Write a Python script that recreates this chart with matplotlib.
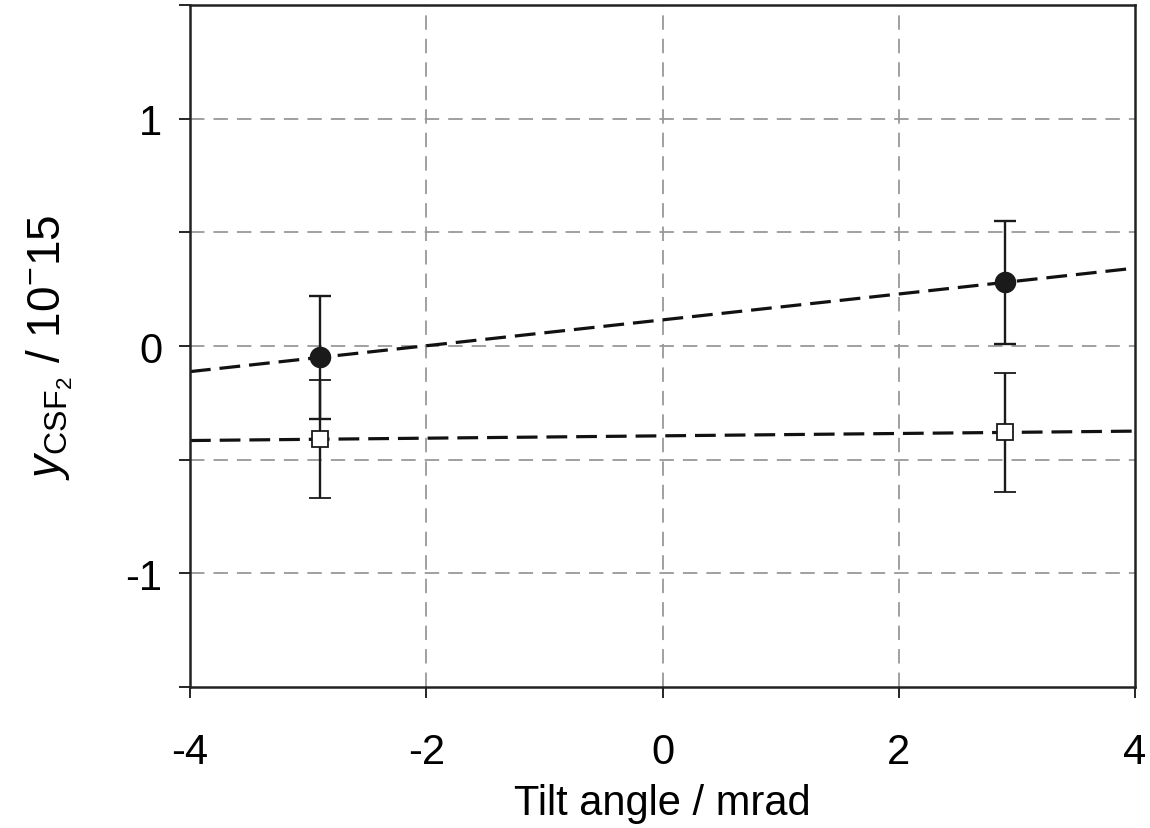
import numpy as np
import matplotlib
matplotlib.use("Agg")
import matplotlib.pyplot as plt

plt.rcParams['font.family'] = ['Liberation Sans', 'DejaVu Sans']
plt.rcParams['mathtext.fontset'] = 'custom'
plt.rcParams['mathtext.rm'] = 'Liberation Sans'
plt.rcParams['mathtext.it'] = 'Liberation Sans:italic'

# data
tilt = [-2.9, 2.9]
y_filled = [-0.05, 0.28]
err_filled = [0.27, 0.27]
y_open = [-0.41, -0.38]
err_open = [0.26, 0.26]

fig = plt.figure(figsize=(11.5, 8.29), dpi=100)
ax = fig.add_axes([0.1652, 0.170, 0.8218, 0.8228])

ax.set_xlim(-4, 4)
ax.set_ylim(-1.5, 1.5)

# grid
for gx in [-2, 0, 2]:
    ax.axvline(gx, color='#999999', lw=1.3, ls=(0, (8, 5)), zorder=0)
for gy in [-1, -0.5, 0, 0.5, 1]:
    ax.axhline(gy, color='#999999', lw=1.3, ls=(0, (8, 5)), zorder=0)

# linear fits through each series
xf = np.array([-4, 4])
for ys in (y_filled, y_open):
    k, b = np.polyfit(tilt, ys, 1)
    ax.plot(xf, k * xf + b, color='#111111', lw=2.3, ls=(0, (6.5, 2.8)), zorder=2)

ax.errorbar(tilt, y_filled, yerr=err_filled, fmt='o', color='#1a1a1a',
            ms=14.5, elinewidth=1.7, capsize=8, capthick=1.7, zorder=3)
ax.errorbar(tilt, y_open, yerr=err_open, fmt='s', color='#1a1a1a', mfc='white',
            mec='#1a1a1a', mew=1.3, ms=11, elinewidth=1.7, capsize=8,
            capthick=1.7, zorder=3)

ax.set_xticks([-4, -2, 0, 2, 4])
ax.set_xticklabels(['-4', '-2', '0', '2', '4'])
ax.set_yticks([-1.5, -1, -0.5, 0, 0.5, 1, 1.5])
ax.set_yticklabels(['', '-1', '', '0', '', '1', ''])
ax.tick_params(axis='x', direction='out', length=8, width=1.2, pad=24, labelsize=30)
ax.tick_params(axis='y', direction='out', length=8, width=1.2, pad=12, labelsize=30)
for s in ax.spines.values():
    s.set_linewidth(1.8)
    s.set_color('#222222')

ax.set_xlabel('Tilt angle / mrad', fontsize=30, labelpad=8)
ax.set_ylabel(r'$y_{\mathrm{CSF}_2}$ / 10$^{-}$15', fontsize=33, labelpad=36)

fig.savefig('out.png', dpi=100)
